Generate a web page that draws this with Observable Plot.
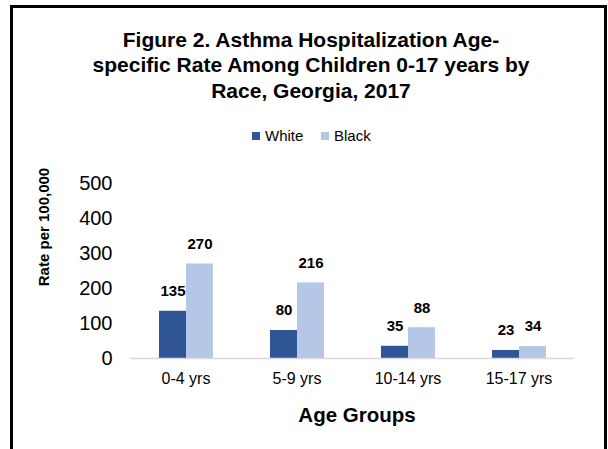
<!DOCTYPE html>
<html>
<head>
<meta charset="utf-8">
<script src="https://cdn.jsdelivr.net/npm/d3@7"></script>
<script src="https://cdn.jsdelivr.net/npm/@observablehq/plot@0.6"></script>
<style>
  body { margin: 0; background: #fff; font-family: "Liberation Sans", Arial, sans-serif; color: #000; }
  #chart { position: relative; width: 608px; height: 449px; overflow: hidden; }
  #chart svg { position: absolute; left: 0; top: 0; }
  #frame { position: absolute; left: 10px; top: 5px; width: 597px; height: 500px; border: 3px solid #000; border-bottom: none; box-sizing: border-box; }
  #title { position: absolute; left: 14px; width: 594px; top: 27px; text-align: center; font-weight: bold; font-size: 21px; line-height: 25.3px; }
  #legend { position: absolute; top: 127px; left: 0; height: 18px; font-size: 15px; line-height: 18px; }
  .key { position: absolute; top: 0; white-space: nowrap; }
  .swatch { position: absolute; top: 5px; width: 8px; height: 8px; }
  #ylabel { position: absolute; left: 43px; top: 227px; transform: translate(-50%, -50%) rotate(-90deg); font-weight: bold; font-size: 15px; white-space: nowrap; }
  #xlabel { position: absolute; left: 357px; top: 405px; transform: translateX(-50%); font-weight: bold; font-size: 20.5px; line-height: 20px; white-space: nowrap; }
</style>
</head>
<body>
<div id="chart">
  <div id="frame"></div>
  <div id="title">Figure 2. Asthma Hospitalization Age-<br>specific Rate Among Children 0-17 years by<br>Race, Georgia, 2017</div>
  <div id="legend"></div>
  <div id="ylabel">Rate per 100,000</div>
  <div id="xlabel">Age Groups</div>
</div>
<script>
// Age groups on the x axis, races within each group
const ageGroups = ["0-4 yrs", "5-9 yrs", "10-14 yrs", "15-17 yrs"];
const races = ["White", "Black"];
const whiteRates = [135, 80, 35, 23];
const blackRates = [270, 216, 88, 34];
const raceColors = ["#2F5597", "#B4C7E7"];
const yTicks = [0, 100, 200, 300, 400, 500];

const rows = ageGroups.flatMap((age, i) => [
  {age, race: "White", rate: whiteRates[i]},
  {age, race: "Black", rate: blackRates[i]}
]);

const font = '"Liberation Sans", Arial, sans-serif';

const plot = Plot.plot({
  width: 608,
  height: 449,
  marginTop: 183,
  marginBottom: 91,
  marginLeft: 128,
  marginRight: 33,
  style: {fontFamily: font, background: "transparent", color: "#000"},
  fx: {domain: ageGroups, padding: 0, label: null},
  x: {domain: races, paddingInner: 0, paddingOuter: 1, axis: null},
  y: {domain: [0, 500], label: null},
  // race names are also CSS colour names, so force an ordinal scale
  color: {type: "ordinal", domain: races, range: raceColors},
  marks: [
    Plot.axisY({ticks: yTicks, tickSize: 0, tickPadding: 18, fontSize: 20, label: null, fill: "#000"}),
    Plot.axisFx({anchor: "bottom", tickSize: 0, tickPadding: 14, fontSize: 16, label: null, fill: "#000"}),
    Plot.barY(rows, {fx: "age", x: "race", y: "rate", fill: {value: "race", scale: "color"}}),
    Plot.ruleY([0], {stroke: "#d9d9d9", strokeWidth: 1.5}),
    Plot.text(rows, {fx: "age", x: "race", y: "rate", text: d => String(d.rate), dy: -20, fontSize: 15, fontWeight: "bold", fill: "#000"})
  ]
});
document.getElementById("chart").insertBefore(plot, document.getElementById("title"));

// Legend keys
const legend = document.getElementById("legend");
const keyPos = [{sw: 252, tx: 265}, {sw: 321, tx: 334}];
races.forEach((r, i) => {
  const sw = document.createElement("div");
  sw.className = "swatch";
  sw.style.left = keyPos[i].sw + "px";
  sw.style.background = raceColors[i];
  legend.appendChild(sw);
  const t = document.createElement("div");
  t.className = "key";
  t.style.left = keyPos[i].tx + "px";
  t.textContent = r;
  legend.appendChild(t);
});
</script>
</body>
</html>
